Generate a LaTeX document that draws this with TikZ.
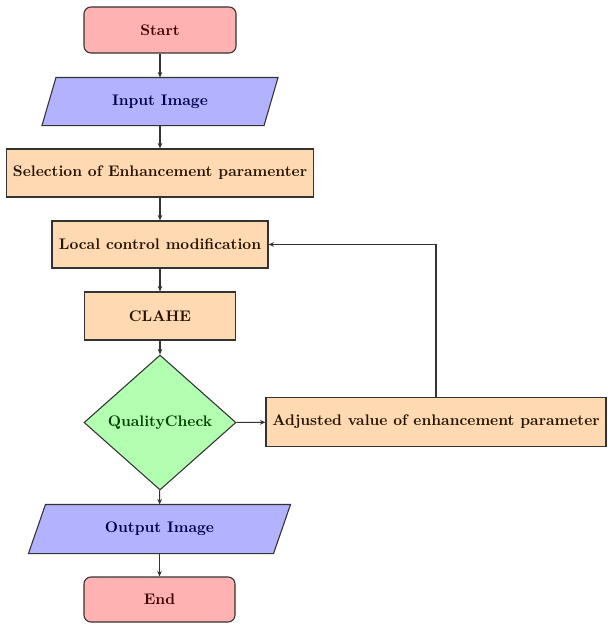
\documentclass[tikz,border=0pt]{standalone}
\usetikzlibrary{shapes.geometric,arrows.meta,backgrounds}
\begin{document}
\begin{tikzpicture}[x=0.6515pt,y=-0.6515pt,
  base/.style={font=\fontsize{10}{12}\selectfont\bfseries, inner sep=0pt, line width=0.7pt, draw=black!80},
  startstop/.style={base, rectangle, rounded corners=4.5pt, fill=red!30, text=red!25!black},
  iotext/.style={base, draw=none, rectangle, text=blue!30!black},
  iofill/.style={fill=blue!30, draw=black!80, line width=0.7pt},
  process/.style={base, rectangle, fill=orange!30, text=orange!15!black},
  decision/.style={base, diamond, aspect=1.126, fill=green!30, text=green!25!black},
  arr/.style={draw=black!80, line width=0.7pt, -{Stealth[length=3.6pt,width=3pt]}}
]
\useasboundingbox (0,0) rectangle (608,626);

\node[startstop, minimum width=152*0.6515pt, minimum height=46*0.6515pt] (start) at (160,30) {Start};
\node[iotext, minimum width=235*0.6515pt, minimum height=47*0.6515pt] (in) at (160,101.5) {Input Image};
\node[process, minimum width=307*0.6515pt, minimum height=48*0.6515pt] (sel) at (160,173) {Selection of Enhancement paramenter};
\node[process, minimum width=216*0.6515pt, minimum height=47*0.6515pt] (loc) at (160,244.5) {Local control modification};
\node[process, minimum width=151*0.6515pt, minimum height=48*0.6515pt] (clahe) at (160,316) {CLAHE};
\node[decision, minimum width=152*0.6515pt, minimum height=135*0.6515pt] (qc) at (160,422.5) {QualityCheck};
\node[process, minimum width=340*0.6515pt, minimum height=49*0.6515pt] (adj) at (436,422) {Adjusted value of enhancement parameter};
\node[iotext, minimum width=261*0.6515pt, minimum height=48*0.6515pt] (out) at (159.5,529) {Output Image};
\node[startstop, minimum width=151*0.6515pt, minimum height=45*0.6515pt] (end) at (159.5,599.5) {End};

\begin{pgfonlayer}{background}
\fill[white] (0,0) rectangle (608,626);
\draw[iofill] ([xshift=14*0.6515pt]in.north west) -- (in.north east) -- ([xshift=-14*0.6515pt]in.south east) -- (in.south west) -- cycle;
\draw[iofill] ([xshift=17*0.6515pt]out.north west) -- (out.north east) -- ([xshift=-17*0.6515pt]out.south east) -- (out.south west) -- cycle;
\end{pgfonlayer}

\draw[arr] (start) -- (in);
\draw[arr] (in) -- (sel);
\draw[arr] (sel) -- (loc);
\draw[arr] (loc) -- (clahe);
\draw[arr] (clahe) -- (qc);
\draw[arr] (qc) -- (adj);
\draw[arr] (qc) -- (out);
\draw[arr] (out) -- (end);
\draw[arr] (adj.north) |- (loc.east);
\end{tikzpicture}
\end{document}
